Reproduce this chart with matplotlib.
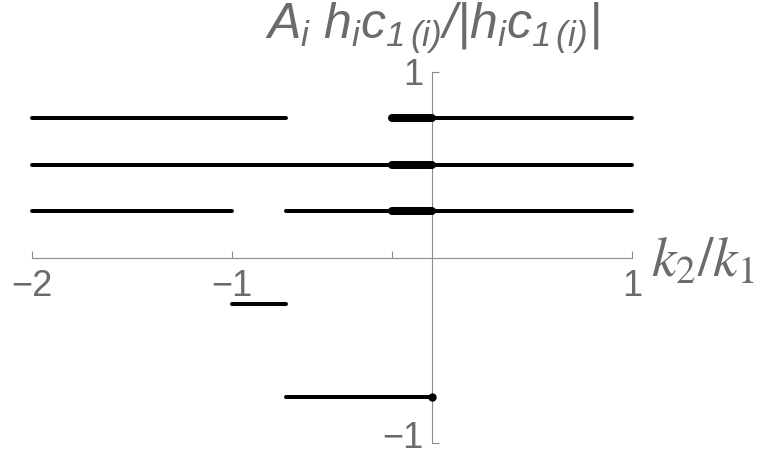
import numpy as np
import matplotlib
matplotlib.use("Agg")
import matplotlib.pyplot as plt
import matplotlib.transforms as mtransforms

# ========== DATA ==========
# each row: level on the y axis and the x-intervals where it is drawn
row_levels = [0.75, 0.5, 0.25, -0.25, -0.75]
thin_starts = [[-2.0, 0.0], [-2.0], [-2.0, -0.732], [-1.0], [-0.732]]
thin_ends = [[-0.732, 1.0], [1.0], [-1.0, 1.0], [-0.732], [0.0]]
# thick pieces near the origin
thick_levels = [0.75, 0.5, 0.25]
thick_start = -0.2
thick_end = 0.0
# end point marker
dot_x = [0.0]
dot_y = [-0.75]

x_ticks = [-2, -1, -0.2, 1]
x_tick_labels = ["\u22122", "\u22121", "", "1"]
y_ticks = [-1, 1]
y_tick_labels = ["\u22121", "1"]

# ========== STYLE ==========
W, H, DPI = 763, 461, 100
AXIS_GRAY = '#8c8c8c'
TEXT_GRAY = '#6b6b6b'
THIN_LW = 4 * 72 / DPI
THICK_LW = 8 * 72 / DPI

plt.rcParams['font.family'] = ['Liberation Sans', 'DejaVu Sans']
plt.rcParams['mathtext.fontset'] = 'custom'
plt.rcParams['mathtext.rm'] = 'Liberation Sans:italic'
plt.rcParams['mathtext.it'] = 'Liberation Sans:italic'

fig = plt.figure(figsize=(W / DPI, H / DPI), dpi=DPI)
left, right = 32 / W, 632 / W
bottom, top = 1 - 443.3 / H, 1 - 71.7 / H
ax = fig.add_axes([left, bottom, right - left, top - bottom])

for level, starts, ends in zip(row_levels, thin_starts, thin_ends):
    for s, e in zip(starts, ends):
        ax.plot([s, e], [level, level], color='black', lw=THIN_LW,
                solid_capstyle='round', clip_on=False, zorder=3)

for level in thick_levels:
    ax.plot([thick_start, thick_end], [level, level], color='black', lw=THICK_LW,
            solid_capstyle='round', clip_on=False, zorder=4)

ax.plot(dot_x, dot_y, 'o', color='black', ms=5, clip_on=False, zorder=5)

ax.set_xlim(-2, 1)
ax.set_ylim(-1, 1)

# Mathematica-like axes crossing at the origin
ax.spines['left'].set_position(('data', 0))
ax.spines['bottom'].set_position(('data', 0))
ax.spines['right'].set_visible(False)
ax.spines['top'].set_visible(False)
for sp in ('left', 'bottom'):
    ax.spines[sp].set_color(AXIS_GRAY)
    ax.spines[sp].set_linewidth(0.8)
    ax.spines[sp].set_zorder(2)

ax.set_xticks(x_ticks)
ax.set_xticklabels(x_tick_labels)
ax.set_yticks(y_ticks)
ax.set_yticklabels(y_tick_labels)
ax.tick_params(axis='both', direction='in', length=5, width=0.8, color=AXIS_GRAY,
               labelcolor=TEXT_GRAY, labelsize=26)
ax.tick_params(axis='x', pad=8)
ax.tick_params(axis='y', pad=6)
ax.patch.set_visible(False)

# lift the lower y label a little, as in the reference
lbl = ax.get_yticklabels()[0]
lbl.set_transform(lbl.get_transform() +
                  mtransforms.ScaledTranslation(0, 6 / 72, fig.dpi_scale_trans))

# axis labels
fig.text(432 / W, 1 - 39 / H, r'$A_i\ h_i c_{1\,(i)}/|h_i c_{1\,(i)}|$',
         ha='center', va='baseline', fontsize=36, color=TEXT_GRAY,
         math_fontfamily='custom')
fig.text(651 / W, 1 - 276 / H, r'$k_2/k_1$', ha='left', va='baseline',
         fontsize=40, color=TEXT_GRAY, math_fontfamily='stix')

plt.savefig('out.png', dpi=DPI)
plt.close()
